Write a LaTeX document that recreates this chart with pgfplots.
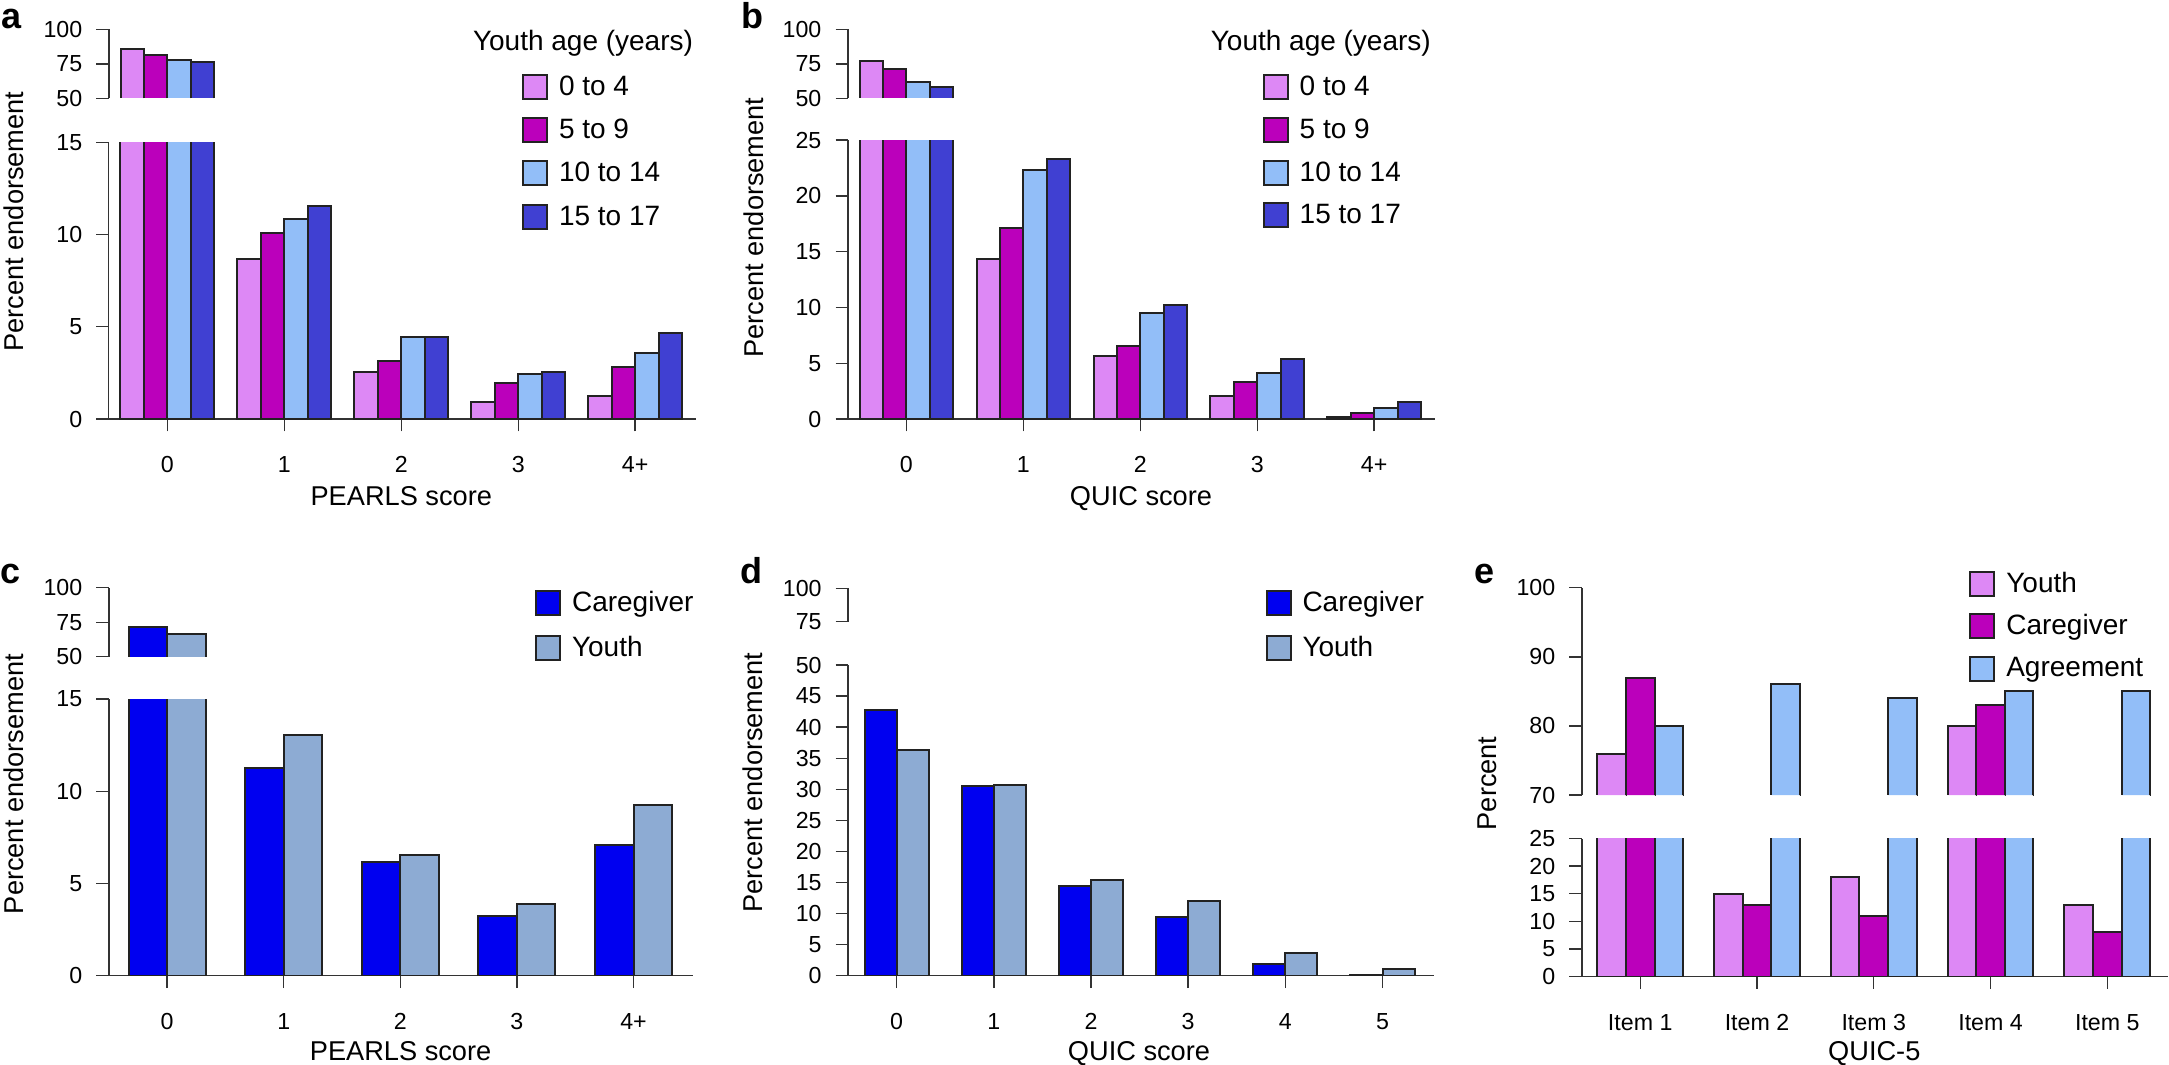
\documentclass[border=0pt]{standalone}
\usepackage{fontspec}
\setmainfont{Liberation Sans}
\usepackage{pgfplots}
\usepackage{pgfplotstable}
\pgfplotsset{compat=1.18}

\definecolor{cviolet}{HTML}{DD88F5}
\definecolor{cmag}{HTML}{BB00BB}
\definecolor{clblue}{HTML}{92BEF8}
\definecolor{cblue}{HTML}{4040D2}
\definecolor{ccare}{HTML}{0000F0}
\definecolor{cyouth}{HTML}{8DABD3}
\definecolor{cedge}{HTML}{222222}
\definecolor{caxis}{HTML}{333333}

\newcommand\tickfont{\fontsize{5.8pt}{6.5pt}\selectfont}
\newcommand\labfont{\fontsize{6.8pt}{8pt}\selectfont}
\newcommand\legfont{\fontsize{7pt}{8pt}\selectfont}
\newcommand\letfont{\fontsize{9pt}{10pt}\selectfont\bfseries}

\pgfplotstableread{
x a b c d
0 86 81.4 78 76.3
1 8.66 10.07 10.86 11.55
2 2.57 3.16 4.45 4.45
3 0.94 1.95 2.46 2.57
4 1.25 2.84 3.56 4.66
}\dataA

\pgfplotstableread{
x a b c d
0 76.8 71.5 62.1 58.5
1 14.34 17.11 22.31 23.30
2 5.62 6.51 9.50 10.21
3 2.09 3.32 4.12 5.41
4 0.21 0.51 1.02 1.49
}\dataB

\pgfplotstableread{
x care youth
0 71.5 66.2
1 11.26 13.05
2 6.16 6.54
3 3.25 3.87
4 7.07 9.25
}\dataC

\pgfplotstableread{
x care youth
0 42.7 36.3
1 30.6 30.7
2 14.4 15.4
3 9.44 12.07
4 1.88 3.65
5 0.16 1.07
}\dataD

\pgfplotstableread{
x youth care agree
0 76 87 80
1 15 13 86
2 18 11 84
3 80 83 85
4 13 8 85
}\dataE

\pgfplotsset{
  myaxis/.style={
    scale only axis, anchor=south west,
    axis x line*=bottom, axis y line*=left,
    tick align=outside, major tick length=3.1pt,
    axis line style={line width=0.35pt, caxis},
    every tick/.style={line width=0.35pt, caxis},
    ybar, clip mode=individual,
    ticklabel style={font=\tickfont},
    xticklabel style={yshift=-2.8pt},
    /pgf/number format/assume math mode=true,
    every axis plot/.append style={draw=cedge, line width=0.5pt},
    legend image code/.code={\draw[##1, line width=0.5pt] (0pt,-0.9pt) rectangle (6pt,5.1pt);},
    legend cell align=left,
  },
  % upper segment of a broken axis: the bars are open at the cut
  upaxis/.style={myaxis, axis x line=none,
    every axis plot/.append style={dash pattern=on 1000pt off #1, dash phase=1000pt}},
  lowaxis/.style={myaxis,
    after end axis/.code={\draw[line width=0.35pt, caxis] (rel axis cs:0,0) -- ++(-3.1pt,0pt);}},
  mylegend/.style={legend style={at={#1}, anchor=north west, draw=none, fill=none,
    inner sep=0pt, outer sep=0pt, column sep=2.75pt, font=\legfont,
    nodes={inner sep=0pt, text height=5.1pt, text depth=0.9pt, anchor=base west}}},
}

\begin{document}
\begin{tikzpicture}
\useasboundingbox (0,0) rectangle (542.25pt,-266pt);

%%%%%%%%%% Panel a
\begin{axis}[upaxis=5.85pt, at={(27.2pt,-24.575pt)}, width=146.8pt, height=17.25pt,
  xmin=-0.5, xmax=4.52, ymin=50, ymax=100, ytick={50,75,100}, bar width=0.2,
  restrict y to domain=50:1000]
\addplot[fill=cviolet, bar shift=-0.3] table[x=x,y=a]{\dataA};
\addplot[fill=cmag, bar shift=-0.1] table[x=x,y=b]{\dataA};
\addplot[fill=clblue, bar shift=0.1] table[x=x,y=c]{\dataA};
\addplot[fill=cblue, bar shift=0.3] table[x=x,y=d]{\dataA};
\end{axis}
\begin{axis}[lowaxis, at={(27.2pt,-104.75pt)}, width=146.8pt, height=69.175pt,
  xmin=-0.5, xmax=4.52, ymin=0, ymax=15, ytick={0,5,10,15},
  xtick={0,1,2,3,4}, xticklabels={0,1,2,3,4+}, bar width=0.2,
  mylegend={(0.7037,1.2468)}, legend style={row sep=4.3pt}]
\addplot[fill=cviolet, bar shift=-0.3] table[x=x,y=a]{\dataA};
\addplot[fill=cmag, bar shift=-0.1] table[x=x,y=b]{\dataA};
\addplot[fill=clblue, bar shift=0.1] table[x=x,y=c]{\dataA};
\addplot[fill=cblue, bar shift=0.3] table[x=x,y=d]{\dataA};
\legend{0 to 4, 5 to 9, 10 to 14, 15 to 17}
\end{axis}

%%%%%%%%%% Panel b
\begin{axis}[upaxis=5.85pt, at={(211.975pt,-24.575pt)}, width=146.775pt, height=17.25pt,
  xmin=-0.5, xmax=4.52, ymin=50, ymax=100, ytick={50,75,100}, bar width=0.2,
  restrict y to domain=50:1000]
\addplot[fill=cviolet, bar shift=-0.3] table[x=x,y=a]{\dataB};
\addplot[fill=cmag, bar shift=-0.1] table[x=x,y=b]{\dataB};
\addplot[fill=clblue, bar shift=0.1] table[x=x,y=c]{\dataB};
\addplot[fill=cblue, bar shift=0.3] table[x=x,y=d]{\dataB};
\end{axis}
\begin{axis}[lowaxis, at={(211.975pt,-104.75pt)}, width=146.775pt, height=69.75pt,
  xmin=-0.5, xmax=4.52, ymin=0, ymax=25, ytick={0,5,10,15,20,25},
  xtick={0,1,2,3,4}, xticklabels={0,1,2,3,4+}, bar width=0.2,
  mylegend={(0.7065,1.2366)}, legend style={row sep=4.2pt}]
\addplot[fill=cviolet, bar shift=-0.3] table[x=x,y=a]{\dataB};
\addplot[fill=cmag, bar shift=-0.1] table[x=x,y=b]{\dataB};
\addplot[fill=clblue, bar shift=0.1] table[x=x,y=c]{\dataB};
\addplot[fill=cblue, bar shift=0.3] table[x=x,y=d]{\dataB};
\legend{0 to 4, 5 to 9, 10 to 14, 15 to 17}
\end{axis}

%%%%%%%%%% Panel c
\begin{axis}[upaxis=9.62pt, at={(27.2pt,-164.175pt)}, width=146.05pt, height=17.25pt,
  xmin=-0.5, xmax=4.51, ymin=50, ymax=100, ytick={50,75,100}, bar width=0.33,
  restrict y to domain=50:1000]
\addplot[fill=ccare, bar shift=-0.165] table[x=x,y=care]{\dataC};
\addplot[fill=cyouth, bar shift=0.165] table[x=x,y=youth]{\dataC};
\end{axis}
\begin{axis}[lowaxis, at={(27.2pt,-243.925pt)}, width=146.05pt, height=69.175pt,
  xmin=-0.5, xmax=4.51, ymin=0, ymax=15, ytick={0,5,10,15},
  xtick={0,1,2,3,4}, xticklabels={0,1,2,3,4+}, bar width=0.33,
  mylegend={(0.7296,1.394)}, legend style={row sep=4.8pt}]
\addplot[fill=ccare, bar shift=-0.165] table[x=x,y=care]{\dataC};
\addplot[fill=cyouth, bar shift=0.165] table[x=x,y=youth]{\dataC};
\legend{Caregiver, Youth}
\end{axis}

%%%%%%%%%% Panel d (upper segment holds no bar: every value is below 75)
\begin{axis}[upaxis=9.6pt, at={(212.025pt,-155.425pt)}, width=146.475pt, height=8.35pt,
  xmin=-0.5, xmax=5.53, ymin=75, ymax=100, ytick={75,100}]
\end{axis}
\begin{axis}[lowaxis, at={(212.025pt,-243.925pt)}, width=146.475pt, height=77.675pt,
  xmin=-0.5, xmax=5.53, ymin=0, ymax=50, ytick={0,5,...,50},
  xtick={0,1,2,3,4,5}, bar width=0.33,
  mylegend={(0.7124,1.2414)}, legend style={row sep=4.8pt}]
\addplot[fill=ccare, bar shift=-0.165] table[x=x,y=care]{\dataD};
\addplot[fill=cyouth, bar shift=0.165] table[x=x,y=youth]{\dataD};
\legend{Caregiver, Youth}
\end{axis}

%%%%%%%%%% Panel e
\begin{axis}[upaxis=7.15pt, at={(395.45pt,-198.75pt)}, width=146.55pt, height=51.825pt,
  xmin=-0.5, xmax=4.52, ymin=70, ymax=100, ytick={70,80,90,100}, bar width=0.245,
  restrict y to domain=70:1000]
\addplot[fill=cviolet, bar shift=-0.245] table[x=x,y=youth]{\dataE};
\addplot[fill=cmag, bar shift=0] table[x=x,y=care]{\dataE};
\addplot[fill=clblue, bar shift=0.245] table[x=x,y=agree]{\dataE};
\end{axis}
\begin{axis}[lowaxis, at={(395.45pt,-244.125pt)}, width=146.55pt, height=34.5pt,
  xmin=-0.5, xmax=4.52, ymin=0, ymax=25, ytick={0,5,10,15,20,25},
  xtick={0,1,2,3,4}, xticklabels={Item 1,Item 2,Item 3,Item 4,Item 5}, bar width=0.245,
  mylegend={(0.661,2.9406)}, legend style={row sep=4.1pt}]
\addplot[fill=cviolet, bar shift=-0.245] table[x=x,y=youth]{\dataE};
\addplot[fill=cmag, bar shift=0] table[x=x,y=care]{\dataE};
\addplot[fill=clblue, bar shift=0.245] table[x=x,y=agree]{\dataE};
\legend{Youth, Caregiver, Agreement}
\end{axis}

%%%%%%%%%% Text
\begin{scope}[x=0.25pt, y=-0.25pt, every node/.style={inner sep=0pt, outer sep=0pt}]
\node[anchor=base west, font=\letfont] at (1.7,28.3) {a};
\node[anchor=base west, font=\letfont] at (741,28.3) {b};
\node[anchor=base west, font=\letfont] at (0,583.3) {c};
\node[anchor=base west, font=\letfont] at (740.7,583.3) {d};
\node[anchor=base west, font=\letfont] at (1474.9,583.3) {e};

\node[anchor=base west, font=\legfont] at (473,50) {Youth age (years)};
\node[anchor=base west, font=\legfont] at (1210.8,50) {Youth age (years)};

\node[anchor=base, font=\labfont] at (401.3,505) {PEARLS score};
\node[anchor=base, font=\labfont] at (1141,505) {QUIC score};
\node[anchor=base, font=\labfont] at (400.6,1060) {PEARLS score};
\node[anchor=base, font=\labfont] at (1139,1060) {QUIC score};
\node[anchor=base, font=\labfont] at (1874.3,1060) {QUIC-5};

\node[anchor=base, rotate=90, font=\labfont] at (23.2,221.5) {Percent endorsement};
\node[anchor=base, rotate=90, font=\labfont] at (763.1,227.5) {Percent endorsement};
\node[anchor=base, rotate=90, font=\labfont] at (23.2,784) {Percent endorsement};
\node[anchor=base, rotate=90, font=\labfont] at (762.5,782.5) {Percent endorsement};
\node[anchor=base, rotate=90, font=\labfont] at (1496.7,783.3) {Percent};
\end{scope}
\end{tikzpicture}
\end{document}
